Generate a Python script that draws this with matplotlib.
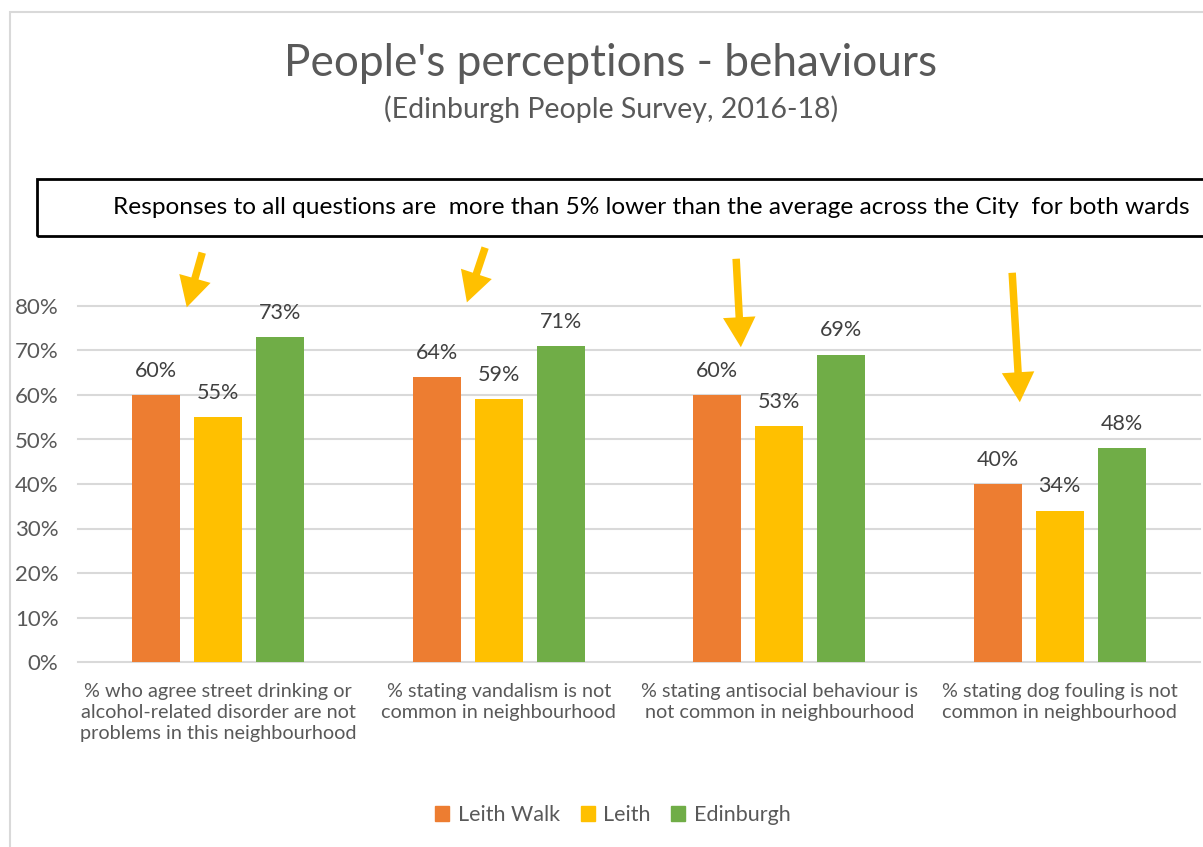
import matplotlib.pyplot as plt
import numpy as np
from matplotlib.patches import Rectangle, FancyArrowPatch

# data
categories = ["% who agree street drinking or\nalcohol-related disorder are not\nproblems in this neighbourhood",
              "% stating vandalism is not\ncommon in neighbourhood",
              "% stating antisocial behaviour is\nnot common in neighbourhood",
              "% stating dog fouling is not\ncommon in neighbourhood"]
series_names = ["Leith Walk", "Leith", "Edinburgh"]
leith_walk = [0.60, 0.64, 0.60, 0.40]
leith = [0.55, 0.59, 0.53, 0.34]
edinburgh = [0.73, 0.71, 0.69, 0.48]
colors = ["#ED7D31", "#FFC000", "#70AD47"]
yticks = [0, 0.1, 0.2, 0.3, 0.4, 0.5, 0.6, 0.7, 0.8]

plt.rcParams['font.family'] = ['Lato', 'DejaVu Sans']
W, H = 1203, 847
fig = plt.figure(figsize=(W / 100, H / 100), dpi=100)

def fx(px): return px / W
def fy(py): return 1 - py / H

# chart outer border (cropped on right/bottom)
fig.patches.append(Rectangle((fx(10), fy(900)), 2, fy(12) - fy(900), transform=fig.transFigure,
                             fill=False, edgecolor="#D9D9D9", lw=1.5))

ax = fig.add_axes([fx(78), fy(662), fx(1200) - fx(78), fy(306) - fy(662)])
x = np.arange(len(categories))
bw = 0.171
step = 0.221
for i, (vals, name) in enumerate(zip([leith_walk, leith, edinburgh], series_names)):
    bars = ax.bar(x + (i - 1) * step, vals, bw, color=colors[i], label=name, zorder=3)
    for b, v in zip(bars, vals):
        ax.text(b.get_x() + b.get_width() / 2, v + 0.055, f"{v:.0%}", ha="center", va="center",
                fontsize=15.5, color="#404040")

ax.set_xlim(-0.5, 3.5)
ax.set_ylim(0, 0.8)
ax.set_yticks(yticks)
ax.set_yticklabels([f"{t:.0%}" for t in yticks], fontsize=16, color="#595959")
ax.set_xticks(x)
ax.set_xticklabels(categories, fontsize=14.3, color="#595959", linespacing=1.3)
ax.tick_params(axis='y', length=0, pad=14)
ax.tick_params(axis='x', length=0, pad=15)
ax.grid(axis='y', color="#D9D9D9", lw=1.5, zorder=0)
ax.set_axisbelow(True)
for s in ax.spines.values():
    s.set_visible(False)
for g in ax.get_ygridlines():
    g.set_clip_on(False)

# titles
fig.text(fx(611), fy(64), "People's perceptions - behaviours", ha="center", va="center",
         fontsize=31.8, color="#595959")
fig.text(fx(611), fy(109), "(Edinburgh People Survey, 2016-18)", ha="center", va="center",
         fontsize=20.5, color="#595959")

# annotation box
fig.patches.append(Rectangle((fx(37), fy(236)), fx(1260) - fx(37), fy(179) - fy(236),
                             transform=fig.transFigure, fill=False, edgecolor="black", lw=2))
fig.text(fx(651), fy(207), "Responses to all questions are  more than 5% lower than the average across the City  for both wards",
         ha="center", va="center", fontsize=17.6, color="black")

# arrows
arrows = [((203, 250), (186, 310)), ((486, 245), (466, 305)),
          ((736, 256), (741, 350)), ((1012, 270), (1020, 405))]
for (x0, y0), (x1, y1) in arrows:
    fig.patches.append(FancyArrowPatch((fx(x0), fy(y0)), (fx(x1), fy(y1)), transform=fig.transFigure,
                                       arrowstyle="simple,head_length=1.2,head_width=1.3,tail_width=0.3",
                                       mutation_scale=18, color="#FFC000", lw=0))

# legend
handles = [Rectangle((0, 0), 1, 1, color=c) for c in colors]
fig.legend(handles, series_names, loc="center", bbox_to_anchor=(fx(613), fy(815)), ncol=3,
           frameon=False, fontsize=15.5, handlelength=0.65, handleheight=0.65, handletextpad=0.4,
           columnspacing=0.95, labelcolor="#595959")

fig.savefig("out.png", dpi=100)
